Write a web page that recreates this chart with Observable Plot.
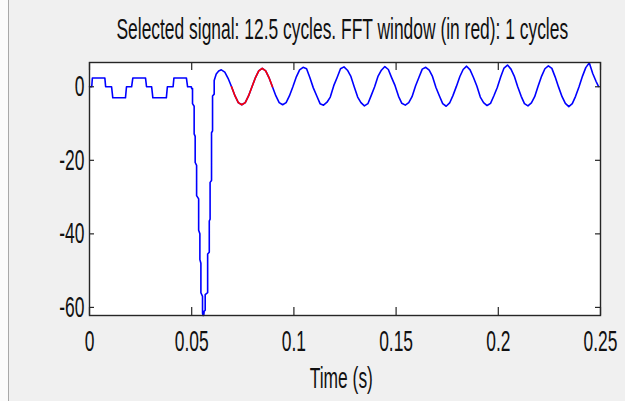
<!DOCTYPE html>
<html><head><meta charset="utf-8">
<script src="https://cdn.jsdelivr.net/npm/d3@7"></script>
<script src="https://cdn.jsdelivr.net/npm/@observablehq/plot@0.6"></script>
<style>
html,body{margin:0;padding:0;background:#f0f0f0;}
#wrap{width:625px;height:401px;position:relative;overflow:hidden;
background:linear-gradient(to right,#fbfbfb 0,#fbfbfb 8px,#a8a8a8 8px,#a8a8a8 9px,#f0f0f0 9px);}
</style></head><body><div id="wrap"></div>
<script>
const titleText = "Selected signal: 12.5 cycles. FFT window (in red): 1 cycles";
const xLabelText = "Time (s)";
const xTicks = [0, 0.05, 0.1, 0.15, 0.2, 0.25];
const xTickLabels = ["0", "0.05", "0.1", "0.15", "0.2", "0.25"];
const yTicks = [0, -20, -40, -60];
const yTickLabels = ["0", "-20", "-40", "-60"];
const xDomain = [0, 0.25];
const yDomain = [-62.2, 6.6];
const redWindow = [0.0695, 0.0895];

// pre-fault stepped waveform
const preT = [0, 0.0011, 0.0014, 0.0075, 0.0079, 0.0108, 0.0114, 0.0176, 0.0181, 0.0206, 0.0212,
  0.0274, 0.0279, 0.0304, 0.0310, 0.0376, 0.0381, 0.0409, 0.0413, 0.0474, 0.0480, 0.0498];
const preV = [0, 0, 2.4, 2.4, 0, 0, -3.0, -3.0, 0, 0, 2.4,
  2.4, 0, 0, -3.0, -3.0, 0, 0, 2.4, 2.4, 0, 0];

// fault dip
const dipT = [0.0500, 0.0504, 0.0504, 0.0512, 0.0512, 0.0517, 0.0517, 0.0524, 0.0524, 0.0534, 0.0534,
  0.0540, 0.0540, 0.0545, 0.0545, 0.0553, 0.0553, 0.0556, 0.0559, 0.0561, 0.0566, 0.0566, 0.0578,
  0.0578, 0.0586, 0.0586, 0.0590, 0.0590, 0.0597, 0.0597, 0.0602, 0.0602, 0.0610, 0.0610, 0.0620, 0.0632];
const dipV = [-0.5, -0.5, -4.6, -5.3, -12.8, -13.5, -20.6, -21.4, -29.6, -30.5, -39.0,
  -40.0, -47.0, -48.0, -56.0, -57.0, -61.6, -62.2, -62.2, -61.0, -60.8, -56.5, -56.0,
  -45.5, -45.0, -36.5, -36.0, -26.0, -25.5, -12.5, -12.0, -2.5, -2.0, 1.7, 3.5, 4.3];

// post-fault sinusoid
const sinT = [
  0.0645, 0.0662, 0.0678, 0.0695, 0.0712, 0.0728, 0.0745, 0.0762, 0.0778, 0.0795, 0.0812, 0.0828,
  0.0845, 0.0862, 0.0878, 0.0895, 0.0912, 0.0928, 0.0945, 0.0962, 0.0978, 0.0995, 0.1012, 0.1028,
  0.1045, 0.1062, 0.1078, 0.1095, 0.1112, 0.1128, 0.1145, 0.1162, 0.1178, 0.1195, 0.1212, 0.1228,
  0.1245, 0.1262, 0.1278, 0.1295, 0.1312, 0.1328, 0.1345, 0.1362, 0.1378, 0.1395, 0.1412, 0.1428,
  0.1445, 0.1462, 0.1478, 0.1495, 0.1512, 0.1528, 0.1545, 0.1562, 0.1578, 0.1595, 0.1612, 0.1628,
  0.1645, 0.1662, 0.1678, 0.1695, 0.1712, 0.1728, 0.1745, 0.1762, 0.1778, 0.1795, 0.1812, 0.1828,
  0.1845, 0.1862, 0.1878, 0.1895, 0.1912, 0.1928, 0.1945, 0.1962, 0.1978, 0.1995, 0.2012, 0.2028,
  0.2045, 0.2062, 0.2078, 0.2095, 0.2112, 0.2128, 0.2145, 0.2162, 0.2178, 0.2195, 0.2212, 0.2228,
  0.2245, 0.2262, 0.2278, 0.2295, 0.2312, 0.2328, 0.2345, 0.2362, 0.2378, 0.2395, 0.2412, 0.2428,
  0.2445, 0.2462, 0.2478, 0.2490];
const sinV = [
  4.6, 4.0, 2.3, 0.0, -2.5, -4.3, -4.9, -4.3, -2.5, 0.0, 2.5, 4.3,
  5.0, 4.3, 2.5, 0.0, -2.5, -4.3, -4.9, -4.3, -2.5, 0.0, 2.7, 4.6,
  5.3, 4.9, 2.5, -0.3, -2.5, -4.6, -5.0, -4.2, -2.8, 0.3, 2.6, 4.9,
  5.4, 4.5, 2.9, 0.0, -2.8, -4.3, -5.2, -4.6, -2.4, 0.0, 2.9, 4.5,
  5.5, 4.7, 2.5, 0.3, -2.6, -4.5, -5.0, -4.3, -2.7, 0.2, 2.6, 4.8,
  5.3, 4.5, 2.8, -0.2, -2.5, -4.6, -5.3, -4.4, -2.4, 0.1, 2.8, 4.7,
  5.6, 4.6, 2.6, 0.2, -2.8, -4.3, -5.1, -4.5, -2.5, -0.2, 2.7, 5.1,
  5.9, 4.8, 2.9, 0.0, -2.6, -4.6, -5.2, -4.4, -2.7, 0.2, 2.9, 4.9,
  5.7, 5.0, 2.7, -0.1, -2.7, -4.5, -5.4, -4.6, -2.6, 0.0, 2.9, 5.2,
  6.5, 3.6, 1.5, 0.1];

const T = preT.concat(dipT, sinT);
const V = preV.concat(dipV, sinV);
const signal = T.map((t, i) => ({t, v: V[i]}));
const fftWin = signal.filter(d => d.t >= redWindow[0] && d.t <= redWindow[1]);

const FONT = "'Liberation Sans', Arial, Helvetica, sans-serif";
const axisCol = "#262626";

const svg = Plot.plot({
  width: 625, height: 401,
  marginLeft: 89, marginRight: 25, marginTop: 62, marginBottom: 86,
  style: {background: "transparent", fontFamily: FONT, fontSize: "29px", color: "#111"},
  x: {domain: xDomain},
  y: {domain: yDomain},
  marks: [
    Plot.frame({fill: "white", stroke: null}),
    Plot.line(signal, {x: "t", y: "v", stroke: "#0000ff", strokeWidth: 1.6}),
    Plot.line(fftWin, {x: "t", y: "v", stroke: "#ff0000", strokeWidth: 1.6}),
    Plot.tickX(xTicks, {x: d => d, insetTop: 245, stroke: axisCol, strokeWidth: 1.2}),
    Plot.tickX(xTicks, {x: d => d, insetBottom: 245, stroke: axisCol, strokeWidth: 1.2}),
    Plot.tickY(yTicks, {y: d => d, insetRight: 506, stroke: axisCol, strokeWidth: 1.2}),
    Plot.tickY(yTicks, {y: d => d, insetLeft: 506, stroke: axisCol, strokeWidth: 1.2}),
    Plot.frame({stroke: axisCol, strokeWidth: 1.4}),
    Plot.axisX({ticks: xTicks, tickFormat: d => xTickLabels[xTicks.indexOf(d)], tickSize: 0, tickPadding: 15, label: null, fontSize: 29, fill: "#111"}),
    Plot.axisY({ticks: yTicks, tickFormat: d => yTickLabels[yTicks.indexOf(d)], tickSize: 0, tickPadding: 5, label: null, fontSize: 29, fill: "#111"}),
    Plot.text([titleText], {text: d => d, frameAnchor: "top", lineAnchor: "bottom", dy: -23.7, dx: -2.7, fontSize: 29, fill: "#111"}),
    Plot.text([xLabelText], {text: d => d, frameAnchor: "bottom", lineAnchor: "bottom", dy: 72.5, dx: -3.7, fontSize: 29, fill: "#111"})
  ]
});
document.getElementById("wrap").append(svg);

// condense all text horizontally (narrow rendering as in the original) by scaling about each text's anchor
const NS = "http://www.w3.org/2000/svg";
const texts = Array.from(svg.querySelectorAll("text"));
const titleEl = texts.find(t => t.textContent === titleText);
const f = titleEl ? 452 / titleEl.getBoundingClientRect().width : 0.57;
texts.forEach(t => {
  const r = t.getBoundingClientRect();
  const anchor = getComputedStyle(t).textAnchor;
  const sx = anchor === "middle" ? r.left + r.width / 2 : anchor === "end" ? r.right : r.left;
  const m = t.parentNode.getScreenCTM().inverse();
  const p = new DOMPoint(sx, r.top).matrixTransform(m);
  const g = document.createElementNS(NS, "g");
  g.setAttribute("transform", `translate(${p.x},0) scale(${f},1) translate(${-p.x},0)`);
  t.parentNode.insertBefore(g, t);
  g.appendChild(t);
});
</script></body></html>
